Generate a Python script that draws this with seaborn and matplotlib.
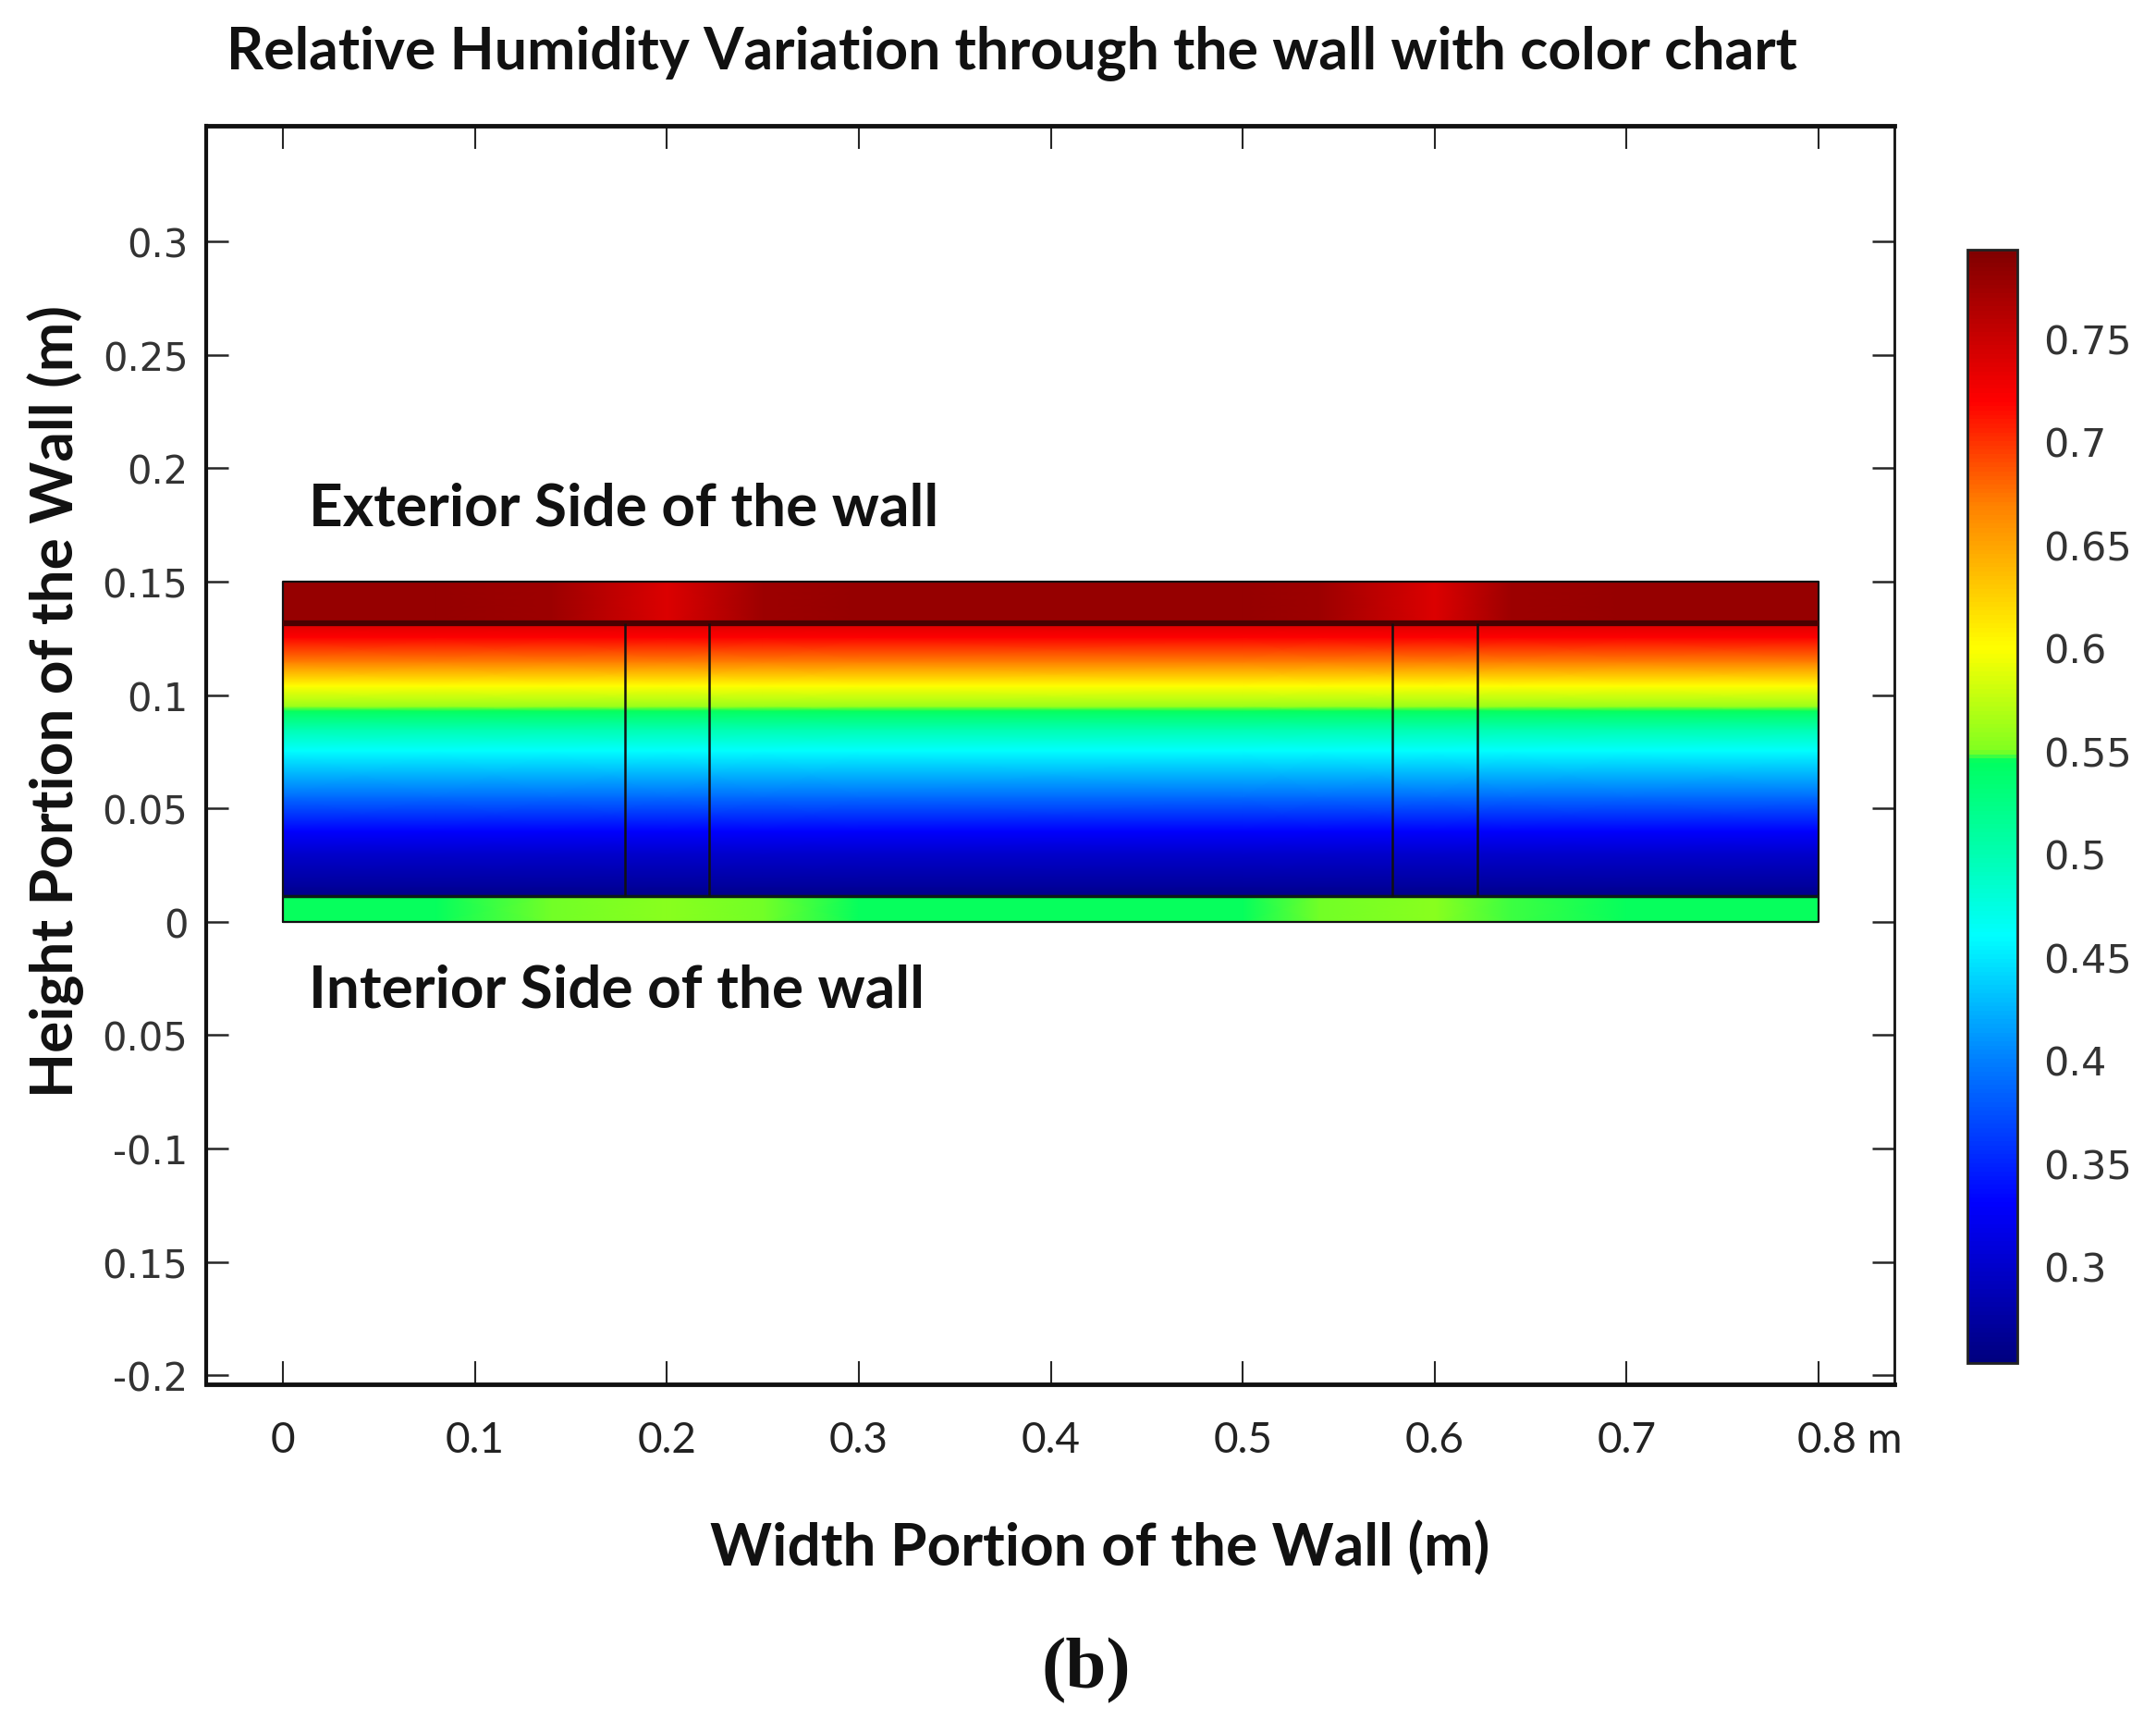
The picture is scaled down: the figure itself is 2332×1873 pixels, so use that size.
import numpy as np
import matplotlib
matplotlib.use("Agg")
import matplotlib.pyplot as plt
import matplotlib.transforms as mtransforms
from matplotlib.colors import LinearSegmentedColormap
import seaborn as sns

# ---------------- data ----------------
# layer boundaries of the wall (m)
wall_x = [0.0, 0.8]
layer_y = [0.0, 0.0115, 0.1315, 0.15]          # interior band | main layer | exterior band
stud_x = [0.178, 0.222, 0.578, 0.622]           # stud edges

# main layer relative-humidity profile (depends on height)
main_y  = [0.0115, 0.0155, 0.030, 0.040, 0.055, 0.0754, 0.085, 0.093, 0.095, 0.104, 0.1145, 0.1255, 0.1315]
main_rh = [0.26,   0.27,   0.30,  0.33,  0.39,  0.46,   0.50,  0.545, 0.56,  0.60,  0.67,   0.72,   0.74]

# bands along the width
band_x    = [0.0,   0.08,  0.14,  0.2,   0.25,  0.30,  0.50,  0.54,  0.6,   0.64,  0.7,   0.8]
bottom_rh = [0.545, 0.545, 0.549, 0.553, 0.549, 0.545, 0.545, 0.549, 0.553, 0.548, 0.545, 0.545]
top_rh    = [0.78,  0.78,  0.775, 0.74,  0.775, 0.78,  0.78,  0.775, 0.74,  0.775, 0.78,  0.78]

# colour scale
rh_min, rh_max = 0.253, 0.793
cmap_vals   = [0.253, 0.33, 0.40, 0.46, 0.50, 0.545, 0.55, 0.60, 0.67, 0.72, 0.793]
cmap_colors = ["#00007f", "#0000ff", "#0080ff", "#00ffff", "#00ffb0", "#00ff60",
               "#80ff20", "#ffff00", "#ff8000", "#ff0000", "#800000"]
cbar_ticks = [0.3, 0.35, 0.4, 0.45, 0.5, 0.55, 0.6, 0.65, 0.7, 0.75]
cbar_labels = ["0.3", "0.35", "0.4", "0.45", "0.5", "0.55", "0.6", "0.65", "0.7", "0.75"]

x_ticks = [0, 0.1, 0.2, 0.3, 0.4, 0.5, 0.6, 0.7, 0.8]
x_labels = ["0", "0.1", "0.2", "0.3", "0.4", "0.5", "0.6", "0.7", "0.8 m"]
y_ticks = [0.3, 0.25, 0.2, 0.15, 0.1, 0.05, 0, -0.05, -0.1, -0.15, -0.2]
y_labels = ["0.3", "0.25", "0.2", "0.15", "0.1", "0.05", "0", "0.05", "-0.1", "0.15", "-0.2"]

title = "Relative Humidity Variation through the wall with color chart"
xlabel = "Width Portion of the Wall (m)"
ylabel = "Height Portion of the Wall (m)"
ext_label = "Exterior Side of the wall"
int_label = "Interior Side of the wall"

# ---------------- style ----------------
sns.set_style("ticks")
plt.rcParams["font.family"] = ["Lato", "DejaVu Sans"]

pos = [(v - rh_min) / (rh_max - rh_min) for v in cmap_vals]
cmap = LinearSegmentedColormap.from_list("rh", list(zip(pos, cmap_colors)))

fig = plt.figure(figsize=(23.32, 18.74), dpi=100)
ax = fig.add_axes([0.0956, 0.2006, 0.783, 0.7263])

# ---------------- field ----------------
bx = np.array(band_x)
# main layer
Xm, Ym = np.meshgrid(bx, np.array(main_y))
Cm = np.repeat(np.array(main_rh)[:, None], len(bx), axis=1)
mesh = ax.pcolormesh(Xm, Ym, Cm, cmap=cmap, vmin=rh_min, vmax=rh_max, shading="gouraud")
# interior band
Xb, Yb = np.meshgrid(bx, np.array(layer_y[0:2]))
Cb = np.vstack([bottom_rh, bottom_rh])
ax.pcolormesh(Xb, Yb, Cb, cmap=cmap, vmin=rh_min, vmax=rh_max, shading="gouraud")
# exterior band
Xt, Yt = np.meshgrid(bx, np.array(layer_y[2:4]))
Ct = np.vstack([top_rh, top_rh])
ax.pcolormesh(Xt, Yt, Ct, cmap=cmap, vmin=rh_min, vmax=rh_max, shading="gouraud")

# outlines
ax.plot([wall_x[0], wall_x[1], wall_x[1], wall_x[0], wall_x[0]],
        [layer_y[0], layer_y[0], layer_y[3], layer_y[3], layer_y[0]], color="#111111", lw=1.6)
ax.hlines(layer_y[1], wall_x[0], wall_x[1], color="#0a1a1a", lw=2.5)
ax.hlines(layer_y[2], wall_x[0], wall_x[1], color="#4a0000", lw=4.5)
ax.vlines(stud_x, layer_y[1], layer_y[2], color="#111111", lw=1.8)

# annotations
ax.text(0.0136, 0.1824, ext_label, fontsize=46, fontweight="bold", ha="left", va="center", color="#111111")
ax.text(0.0136, -0.0297, int_label, fontsize=46, fontweight="bold", ha="left", va="center", color="#111111")

# ---------------- axes ----------------
ax.set_xlim(-0.0401, 0.8394)
ax.set_ylim(-0.204, 0.351)
ax.set_xticks(x_ticks)
ax.set_xticklabels(x_labels)
ax.set_yticks(y_ticks)
ax.set_yticklabels(y_labels, fontfamily="DejaVu Sans")
ax.tick_params(axis="x", direction="in", top=True, bottom=True, length=18, width=1.5,
               labelsize=33, pad=28, labelcolor="#222222")
ax.tick_params(axis="y", direction="in", left=True, right=True, length=17, width=1.8,
               labelsize=30, pad=14, labelcolor="#333333")
# shift "0.8 m" so that "0.8" sits on its tick
last = ax.get_xticklabels()[-1]
last.set_transform(last.get_transform() + mtransforms.ScaledTranslation(24 / 72, 0, fig.dpi_scale_trans))

for side, lw in [("left", 3.0), ("bottom", 3.5), ("top", 3.5), ("right", 2.0)]:
    ax.spines[side].set_linewidth(lw)
    ax.spines[side].set_color("#111111")
    ax.spines[side].set_visible(True)

ax.set_xlabel(xlabel, fontsize=46, fontweight="bold", color="#111111")
ax.xaxis.set_label_coords(0.5296, -0.1286)
ax.xaxis.label.set_va("center")
ax.set_ylabel(ylabel, fontsize=46, fontweight="bold", color="#111111")
ax.yaxis.set_label_coords(-0.0893, 0.5437)
ax.yaxis.label.set_va("center")

fig.text(0.4695, 0.9696, title, fontsize=45, fontweight="bold", ha="center", va="center", color="#111111")
fig.text(0.5039, 0.0358, "(b)", fontsize=57, fontweight="bold", ha="center", va="center",
         family=["Liberation Serif", "DejaVu Serif"], color="#111111")

# ---------------- colorbar ----------------
cax = fig.add_axes([0.9125, 0.2129, 0.0232, 0.6425])
cb = fig.colorbar(mesh, cax=cax)
cb.set_ticks(cbar_ticks)
cb.set_ticklabels(cbar_labels)
cb.outline.set_linewidth(2.0)
cb.outline.set_edgecolor("#222222")
cax.tick_params(axis="y", direction="in", left=True, right=True, length=9, width=1.5,
                labelsize=31, pad=20, labelcolor="#333333")
for t in cax.get_yticklabels():
    t.set_fontfamily("DejaVu Sans")

fig.savefig("out.png", dpi=100, facecolor="white")
